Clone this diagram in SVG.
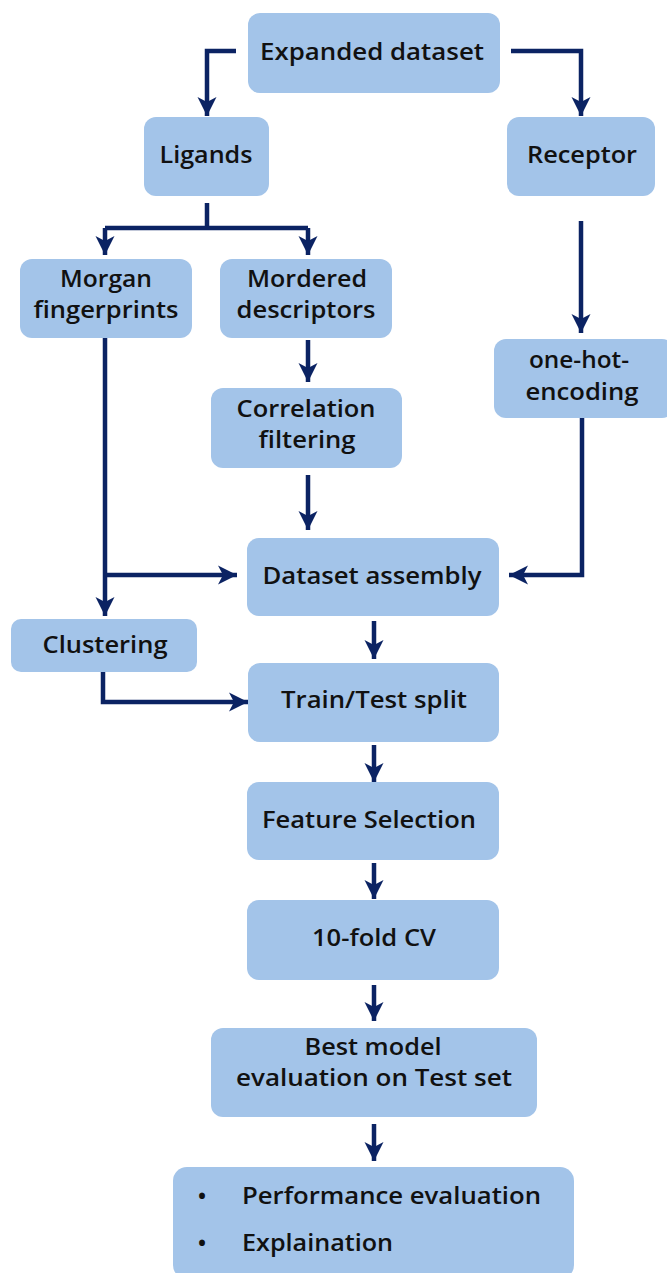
<svg xmlns="http://www.w3.org/2000/svg" width="667" height="1273" viewBox="0 0 667 1273">
<style>
.box{fill:#a3c4e9;}
.t{font-family:"Open Sans","Liberation Sans",sans-serif;font-weight:600;font-size:24px;fill:#111;text-anchor:middle;}
.tl{text-anchor:start;}
.c{fill:none;stroke:#0b2363;stroke-width:4.5;}
</style>
<defs>
<marker id="ah" markerUnits="userSpaceOnUse" markerWidth="24" markerHeight="24" refX="19" refY="10.5" orient="auto">
<path d="M0,1 L19,10.5 L0,20 L5,10.5 z" fill="#0b2363"/>
</marker>
</defs>
<rect width="667" height="1273" fill="#fff"/>
<g id="connectors">
<path class="c" d="M236,51 H207 V116" marker-end="url(#ah)"/>
<path class="c" d="M511,51 H581 V116" marker-end="url(#ah)"/>
<path class="c" d="M207,203 V228"/>
<path class="c" d="M105,228 H308"/>
<path class="c" d="M105,228 V255" marker-end="url(#ah)"/>
<path class="c" d="M308,228 V255" marker-end="url(#ah)"/>
<path class="c" d="M581,221 V333" marker-end="url(#ah)"/>
<path class="c" d="M308,340 V382" marker-end="url(#ah)"/>
<path class="c" d="M308,475 V530" marker-end="url(#ah)"/>
<path class="c" d="M105,338 V616" marker-end="url(#ah)"/>
<path class="c" d="M105,575 H237" marker-end="url(#ah)"/>
<path class="c" d="M582,418 V575 H509" marker-end="url(#ah)"/>
<path class="c" d="M374,621 V659" marker-end="url(#ah)"/>
<path class="c" d="M103,672 V702 H248" marker-end="url(#ah)"/>
<path class="c" d="M374,745 V782" marker-end="url(#ah)"/>
<path class="c" d="M374,863 V899" marker-end="url(#ah)"/>
<path class="c" d="M374,985 V1021" marker-end="url(#ah)"/>
<path class="c" d="M374,1124 V1161" marker-end="url(#ah)"/>
</g>
<g id="expanded"><rect class="box" x="248" y="13" width="252" height="80" rx="12"/><text class="t" x="372" y="60" textLength="224" lengthAdjust="spacingAndGlyphs">Expanded dataset</text></g>
<g id="ligands"><rect class="box" x="144" y="117" width="125" height="79" rx="12"/><text class="t" x="206" y="163" textLength="93" lengthAdjust="spacingAndGlyphs">Ligands</text></g>
<g id="receptor"><rect class="box" x="507" y="117" width="148" height="79" rx="12"/><text class="t" x="582" y="163" textLength="110" lengthAdjust="spacingAndGlyphs">Receptor</text></g>
<g id="morgan"><rect class="box" x="20" y="259" width="172" height="79" rx="12"/><text class="t" x="106" y="287" textLength="92" lengthAdjust="spacingAndGlyphs">Morgan</text><text class="t" x="106" y="318" textLength="145" lengthAdjust="spacingAndGlyphs">fingerprints</text></g>
<g id="mordered"><rect class="box" x="220" y="259" width="172" height="79" rx="12"/><text class="t" x="307" y="287" textLength="120" lengthAdjust="spacingAndGlyphs">Mordered</text><text class="t" x="306" y="318" textLength="139" lengthAdjust="spacingAndGlyphs">descriptors</text></g>
<g id="onehot"><rect class="box" x="494" y="339" width="180" height="79" rx="12"/><text class="t" x="579" y="368" textLength="100" lengthAdjust="spacingAndGlyphs">one-hot-</text><text class="t" x="582" y="400" textLength="113" lengthAdjust="spacingAndGlyphs">encoding</text></g>
<g id="correlation"><rect class="box" x="211" y="388" width="191" height="80" rx="12"/><text class="t" x="306" y="417" textLength="139" lengthAdjust="spacingAndGlyphs">Correlation</text><text class="t" x="307" y="448" textLength="97" lengthAdjust="spacingAndGlyphs">filtering</text></g>
<g id="assembly"><rect class="box" x="247" y="538" width="252" height="78" rx="12"/><text class="t" x="372" y="584" textLength="219" lengthAdjust="spacingAndGlyphs">Dataset assembly</text></g>
<g id="clustering"><rect class="box" x="11" y="619" width="186" height="53" rx="10"/><text class="t" x="105" y="653" textLength="125" lengthAdjust="spacingAndGlyphs">Clustering</text></g>
<g id="split"><rect class="box" x="248" y="663" width="251" height="79" rx="12"/><text class="t" x="374" y="708" textLength="186" lengthAdjust="spacingAndGlyphs">Train/Test split</text></g>
<g id="feature"><rect class="box" x="247" y="782" width="252" height="78" rx="12"/><text class="t" x="369" y="828" textLength="214" lengthAdjust="spacingAndGlyphs">Feature Selection</text></g>
<g id="cv"><rect class="box" x="247" y="900" width="252" height="80" rx="12"/><text class="t" x="374" y="946" textLength="124" lengthAdjust="spacingAndGlyphs">10-fold CV</text></g>
<g id="best"><rect class="box" x="211" y="1028" width="326" height="89" rx="12"/><text class="t" x="373" y="1055" textLength="137" lengthAdjust="spacingAndGlyphs">Best model</text><text class="t" x="374" y="1086" textLength="276" lengthAdjust="spacingAndGlyphs">evaluation on Test set</text></g>
<g id="final"><rect class="box" x="173" y="1167" width="401" height="112" rx="14"/><text class="t" x="202" y="1204">•</text><text class="t tl" x="242" y="1204" textLength="299" lengthAdjust="spacingAndGlyphs">Performance evaluation</text><text class="t" x="202" y="1251">•</text><text class="t tl" x="242" y="1251" textLength="151" lengthAdjust="spacingAndGlyphs">Explaination</text></g>
</svg>
